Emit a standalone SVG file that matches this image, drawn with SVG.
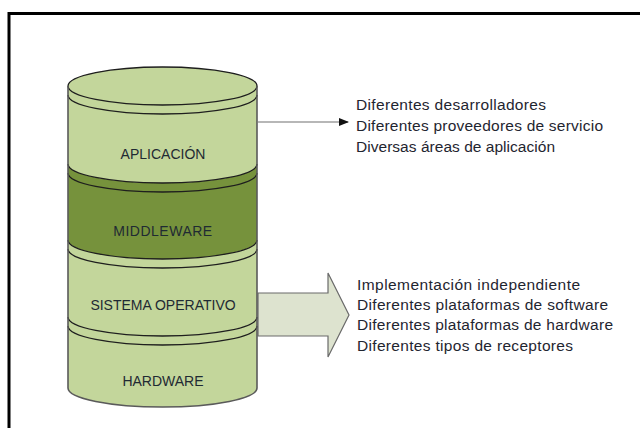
<svg xmlns="http://www.w3.org/2000/svg" width="640" height="428" viewBox="0 0 640 428">
<defs>
<style>
.light{fill:#c3d69b;stroke:none}
.dark{fill:#76923c;stroke:none}
.arc{fill:none;stroke:#1e1e1e;stroke-width:1.3}
.side{fill:none;stroke:#5a5a5a;stroke-width:1.6}
.lbl{font-family:"Liberation Sans",Arial,sans-serif;font-size:14px;fill:#1f2a33;text-anchor:middle}
.note{font-family:"Liberation Sans",Arial,sans-serif;font-size:15.5px;fill:#1f2530}
</style>
<marker id="ah" markerWidth="10" markerHeight="8" refX="9" refY="4" orient="auto" markerUnits="userSpaceOnUse">
<path d="M0,0 L10,4 L0,8 Z" fill="#111"/>
</marker>
</defs>
<rect width="640" height="428" fill="#ffffff"/>
<rect x="9" y="13.5" width="700" height="500" fill="none" stroke="#000" stroke-width="3"/>

<g id="connectors">
<path d="M258,122 L348,122" fill="none" stroke="#707070" stroke-width="1.2" marker-end="url(#ah)"/>
<path d="M258,293 L328,293 L328,273 L349,315 L328,357 L328,336 L258,336 Z" fill="#dde3cf" stroke="#6a6a6a" stroke-width="1.2"/>
</g>

<g id="hardware">
<path class="light" d="M68,317 A94.5,19 0 0 0 257,317 L257,388 A94.5,19 0 0 1 68,388 Z"/>
<path class="arc" d="M68,326 A94.5,19 0 0 0 257,326"/>
<text class="lbl" x="163" y="386">HARDWARE</text>
</g>

<g id="sistema-operativo">
<path class="light" d="M68,240 A94.5,19 0 0 0 257,240 L257,317 A94.5,19 0 0 1 68,317 Z"/>
<path class="arc" d="M68,317 A94.5,19 0 0 0 257,317"/>
<path class="arc" d="M68,249 A94.5,19 0 0 0 257,249"/>
<text class="lbl" x="163" y="310">SISTEMA OPERATIVO</text>
</g>

<g id="middleware">
<path class="dark" d="M68,164 A94.5,19 0 0 0 257,164 L257,240 A94.5,19 0 0 1 68,240 Z"/>
<path class="arc" d="M68,240 A94.5,19 0 0 0 257,240"/>
<path class="arc" d="M68,173 A94.5,19 0 0 0 257,173"/>
<text class="lbl" x="163" y="236" letter-spacing="0.5">MIDDLEWARE</text>
</g>

<g id="aplicacion">
<path class="light" d="M68,86 A94.5,19 0 0 1 257,86 L257,164 A94.5,19 0 0 1 68,164 Z"/>
<path class="arc" d="M68,164 A94.5,19 0 0 0 257,164"/>
<path class="arc" d="M68,86 A94.5,19 0 0 1 257,86"/>
<path class="arc" d="M68,86 A94.5,19 0 0 0 257,86"/>
<path class="arc" d="M68,95 A94.5,19 0 0 0 257,95"/>
<text class="lbl" x="163" y="159">APLICACIÓN</text>
</g>

<g id="cylinder-outline">
<path class="side" d="M68,86 L68,388 A94.5,19 0 0 0 257,388 L257,86"/>
</g>

<g id="notas-aplicacion">
<text class="note" x="356" y="110" textLength="190" lengthAdjust="spacing">Diferentes desarrolladores</text>
<text class="note" x="356" y="131" textLength="247" lengthAdjust="spacing">Diferentes proveedores de servicio</text>
<text class="note" x="356" y="152" textLength="199" lengthAdjust="spacing">Diversas áreas de aplicación</text>
</g>

<g id="notas-sistema">
<text class="note" x="357" y="290" textLength="223" lengthAdjust="spacing">Implementación independiente</text>
<text class="note" x="357" y="310" textLength="251" lengthAdjust="spacing">Diferentes plataformas de software</text>
<text class="note" x="357" y="330" textLength="256" lengthAdjust="spacing">Diferentes plataformas de hardware</text>
<text class="note" x="357" y="351" textLength="216" lengthAdjust="spacing">Diferentes tipos de receptores</text>
</g>
</svg>
